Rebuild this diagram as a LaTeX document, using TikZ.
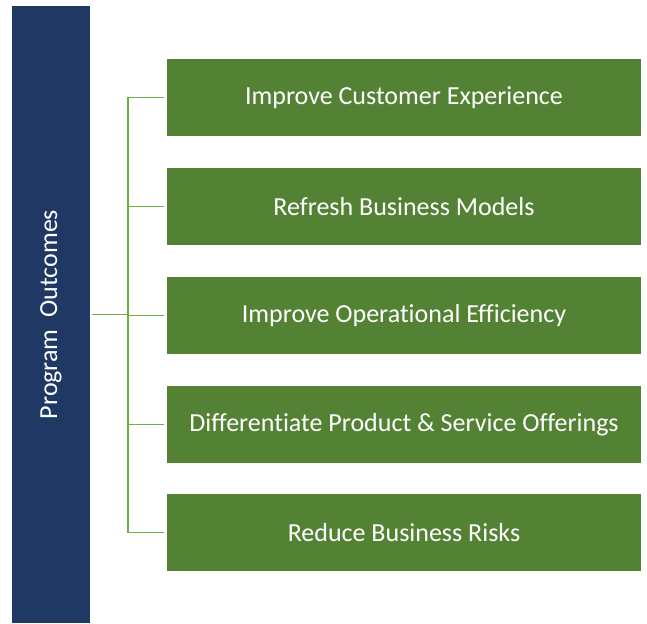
\documentclass[tikz,border=0pt]{standalone}
\usepackage{fontspec}
\setmainfont{Carlito}[Ligatures=CommonOff]
\usetikzlibrary{positioning}
\definecolor{barblue}{HTML}{203864}
\definecolor{boxgreen}{HTML}{548235}
\definecolor{linkgreen}{HTML}{70AD47}

\begin{document}
\begin{tikzpicture}[x=1pt,y=-1pt,
  outcome/.style={fill=boxgreen, text=white, minimum width=474pt, minimum height=77pt, inner sep=0pt, font=\fontsize{26}{30}\selectfont},
  link/.style={draw=linkgreen, line width=1.2pt}]
\useasboundingbox (0,0) rectangle (647,623);
\node[fill=barblue, minimum width=78pt, minimum height=617pt, inner sep=0pt] (bar) at (51,314.5) {};
\node[rotate=90, text=white, font=\fontsize{26}{30}\selectfont] (bartext) at (bar.center) {Program\ \ Outcomes};

\node[outcome] (out1) at (404,97.5) {Improve Customer Experience};
\node[outcome] (out2) at (404,206.5) {Refresh Business Models};
\node[outcome] (out3) at (404,315.5) {Improve Operational Efficiency};
\node[outcome] (out4) at (404,424.5) {Differentiate Product \& Service Offerings};
\node[outcome] (out5) at (404,532.5) {Reduce Business Risks};

\coordinate (trunk) at (128,314.5);
\draw[link, shorten <=2pt] (bar.east) -- (trunk);
\draw[link] (trunk |- out1.west) -- (trunk |- out5.west);
\foreach \i in {1,...,5}
  \draw[link, shorten >=3pt] (trunk |- out\i.west) -- (out\i.west);
\end{tikzpicture}
\end{document}
